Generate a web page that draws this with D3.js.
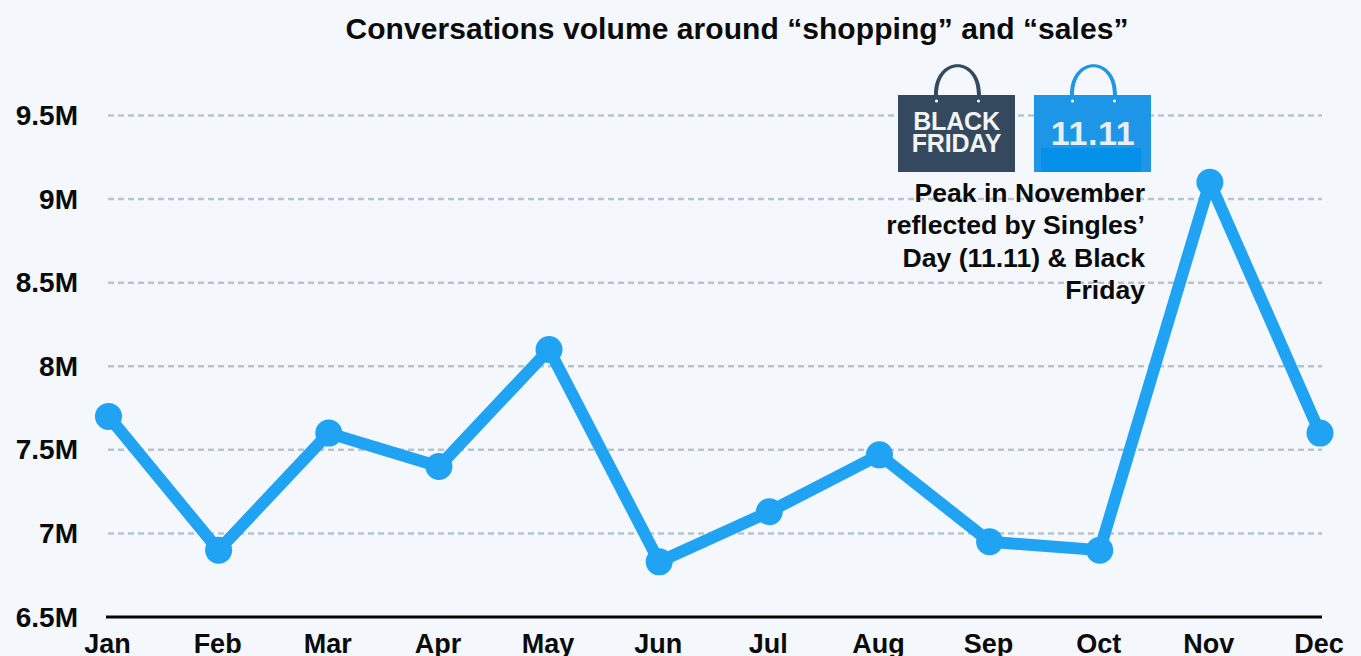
<!DOCTYPE html>
<html>
<head>
<meta charset="utf-8">
<script src="https://cdn.jsdelivr.net/npm/d3@7"></script>
<style>
html,body{margin:0;padding:0;background:#f4f8fc;overflow:hidden}
svg{display:block}
text{font-family:"Liberation Sans",Arimo,sans-serif;font-weight:700;fill:#0b0b0b}
</style>
</head>
<body>
<svg id="chart" width="1361" height="656"></svg>
<script>
const months = ["Jan","Feb","Mar","Apr","May","Jun","Jul","Aug","Sep","Oct","Nov","Dec"];
const volumes = [7.7,6.9,7.6,7.4,8.1,6.83,7.13,7.47,6.95,6.9,9.1,7.6];
const tickValues = [6.5,7,7.5,8,8.5,9,9.5];
const tickLabels = ["6.5M","7M","7.5M","8M","8.5M","9M","9.5M"];
const titleText = "Conversations volume around “shopping” and “sales”";
const noteLines = ["Peak in November","reflected by Singles’","Day (11.11) & Black","Friday"];

const svg = d3.select("#chart");
const x = d3.scalePoint().domain(months).range([108.5,1320]);
const y = d3.scaleLinear().domain([6.5,9.5]).range([617,115.5]);

svg.append("text").attr("x",737).attr("y",38.5).attr("text-anchor","middle")
  .style("font-size","30px").style("letter-spacing","0.06px").text(titleText);

// Gridlines and value labels
const yAxis = svg.append("g");
yAxis.selectAll("line.grid").data(tickValues.filter(d=>d>6.5)).join("line")
  .attr("class","grid")
  .attr("x1",108).attr("x2",1322)
  .attr("y1",d=>y(d)).attr("y2",d=>y(d))
  .attr("stroke","#b8c3cd").attr("stroke-width",2.5).attr("stroke-dasharray","6 4");
yAxis.selectAll("text").data(tickValues).join("text")
  .attr("x",78).attr("y",d=>y(d)+9.5).attr("text-anchor","end")
  .style("font-size","28px")
  .text((d,i)=>tickLabels[i]);

svg.append("line").attr("x1",106).attr("x2",1322)
  .attr("y1",y(6.5)).attr("y2",y(6.5))
  .attr("stroke","#050505").attr("stroke-width",3);

svg.append("g").selectAll("text").data(months).join("text")
  .attr("x",d=>x(d)-1).attr("y",652.5).attr("text-anchor","middle")
  .style("font-size","27px").text(d=>d);

// Shopping-bag badges
function bag(left, top, fill, handle){
  const g = svg.append("g").attr("transform",`translate(${left},${top})`);
  g.append("path")
    .attr("d","M36 30 C36 -11 83 -11 83 30 L79 30 C79 -7 40 -7 40 30 Z")
    .attr("fill",handle);
  g.append("rect").attr("y",30).attr("width",117).attr("height",77).attr("fill",fill);
  [38.5,80.5].forEach(cx=>g.append("circle").attr("cx",cx).attr("cy",36).attr("r",1.5).attr("fill","#fff"));
  return g;
}
const bf = bag(898,65,"#34495e","#34495e");
bf.selectAll("text").data(["BLACK","FRIDAY"]).join("text")
  .attr("x",58.5).attr("y",(d,i)=>65+i*22).attr("text-anchor","middle")
  .style("font-size","25px").style("letter-spacing","-0.2px").style("fill","#f2f4f6").text(d=>d);
const ss = bag(1034,65,"#1e96e8","#1e96e8");
ss.append("rect").attr("x",7).attr("y",83).attr("width",100).attr("height",24).attr("fill","#0590ea");
ss.append("text").attr("x",59).attr("y",80).attr("text-anchor","middle")
  .style("font-size","34px").style("letter-spacing","0.6px").style("fill","#e8eef4").text("11.11");

svg.append("g").selectAll("text").data(noteLines).join("text")
  .attr("x",1145).attr("y",(d,i)=>202+i*32.3).attr("text-anchor","end")
  .style("font-size","26.6px").text(d=>d);

// Monthly series
const line = d3.line().x((d,i)=>x(months[i])).y(d=>y(d));
svg.append("path").datum(volumes).attr("d",line)
  .attr("fill","none").attr("stroke","#1fa3f2").attr("stroke-width",12).attr("stroke-linejoin","round");
svg.append("g").selectAll("circle").data(volumes).join("circle")
  .attr("cx",(d,i)=>x(months[i])).attr("cy",d=>y(d)).attr("r",13.5).attr("fill","#1fa3f2");
</script>
</body>
</html>
